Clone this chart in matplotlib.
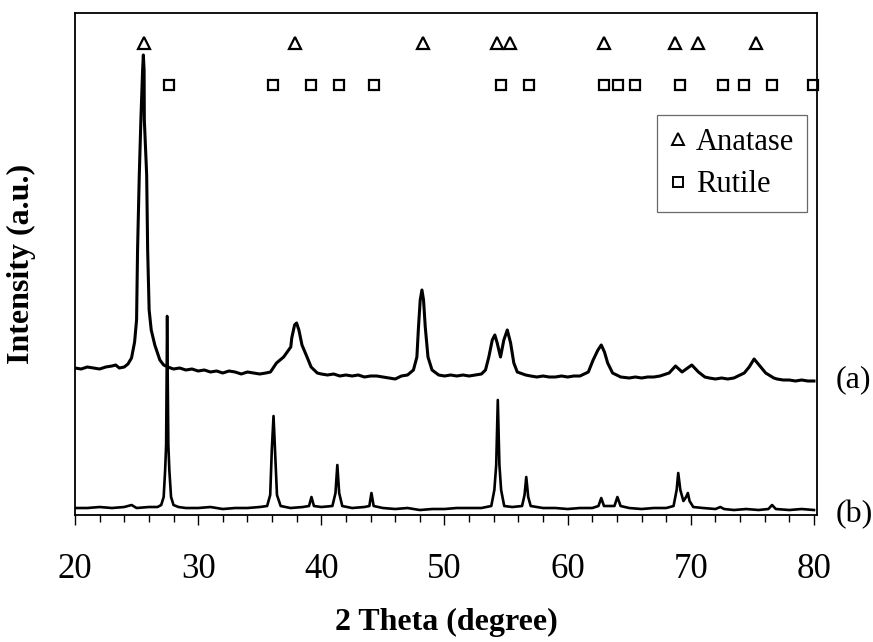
import numpy as np
import matplotlib
matplotlib.use("Agg")
import matplotlib.pyplot as plt
from matplotlib.lines import Line2D
from matplotlib.ticker import MultipleLocator

plt.rcParams["font.family"] = ["Liberation Serif", "DejaVu Serif"]

# pattern (a): anatase-rich sample (2theta, intensity a.u.)
a_theta = [20.0, 20.5, 21.0, 21.5, 22.0, 22.5, 23.0, 23.3, 23.6, 24.0, 24.3, 24.59,
           24.84, 25.0, 25.08, 25.22, 25.35, 25.49, 25.55, 25.61, 25.63, 25.82, 25.9,
           26.02, 26.19, 26.48, 26.89, 27.2, 27.54, 28.0, 28.5, 29.0, 29.5, 30.0, 30.5,
           31.0, 31.5, 32.0, 32.5, 33.0, 33.5, 34.0, 34.5, 35.0, 35.5, 35.87, 36.36,
           36.94, 37.52, 37.6, 37.83, 37.99, 38.18, 38.43, 38.84, 39.17, 39.67, 40.0,
           40.5, 41.0, 41.5, 42.0, 42.5, 43.0, 43.5, 44.0, 44.5, 45.0, 45.5, 46.0, 46.5,
           47.0, 47.48, 47.76, 47.89, 48.03, 48.17, 48.3, 48.44, 48.66, 48.99, 49.53,
           50.0, 50.5, 51.0, 51.5, 52.0, 52.5, 53.0, 53.33, 53.6, 53.88, 54.09, 54.28,
           54.55, 54.82, 55.1, 55.37, 55.63, 55.91, 56.59, 57.0, 57.5, 58.0, 58.5, 59.0,
           59.5, 60.0, 60.5, 61.0, 61.68, 62.07, 62.46, 62.73, 62.99, 63.25, 63.65,
           64.31, 65.0, 65.5, 66.0, 66.5, 67.0, 67.5, 68.24, 68.76, 69.29, 70.08, 70.62,
           71.14, 71.5, 72.0, 72.5, 73.0, 73.5, 74.34, 74.74, 75.14, 75.54, 76.08,
           76.74, 77.0, 77.5, 78.0, 78.5, 79.0, 79.5, 80.0]
a_int = [147, 146, 148, 147, 146, 148, 149, 150, 147, 148, 151, 157,
         173, 195, 265, 340, 395, 445, 460, 445, 395, 340, 265,
         205, 185, 170, 155, 150, 148, 146, 147, 145, 146, 144, 145,
         143, 144, 142, 144, 143, 141, 143, 142, 141, 142, 143, 152,
         158, 168, 177, 190, 192, 185, 170, 158, 148, 142, 141,
         140, 141, 139, 140, 139, 140, 138, 139, 139, 138, 137, 136, 139,
         140, 145, 158, 188, 215, 225, 215, 188, 158, 145, 140,
         139, 140, 139, 140, 139, 140, 141, 145, 158, 175, 180, 172,
         158, 175, 185, 172, 152, 143, 140, 139, 138, 139, 138, 138,
         139, 138, 139, 139, 143, 155, 165, 170, 163, 152, 142,
         138, 137, 138, 137, 138, 138, 139, 142, 149, 143, 150, 143,
         138, 137, 136, 137, 136, 137, 142, 148, 156, 150, 142,
         137, 136, 135, 135, 134, 135, 134, 134]

# pattern (b): rutile sample
b_theta = [20.0, 21.0, 22.0, 23.0, 24.0, 24.6, 25.0, 26.0, 26.7, 27.0, 27.2, 27.32,
           27.4, 27.48, 27.58, 27.66, 27.8, 28.0, 28.4, 29.0, 30.0, 31.0, 32.0, 33.0,
           34.0, 35.0, 35.6, 35.85, 35.98, 36.12, 36.24, 36.4, 36.7, 37.5, 38.5, 39.0,
           39.2, 39.4, 40.0, 40.9, 41.15, 41.3, 41.45, 41.7, 42.5, 43.5, 43.9, 44.07,
           44.25, 45.0, 46.0, 47.0, 48.0, 49.0, 50.0, 51.0, 52.0, 53.0, 53.8, 54.05,
           54.2, 54.33, 54.46, 54.6, 54.85, 55.5, 56.3, 56.5, 56.64, 56.8, 57.0, 58.0,
           59.0, 60.0, 61.0, 62.0, 62.5, 62.73, 62.95, 63.8, 64.04, 64.3, 65.0, 66.0,
           67.0, 68.0, 68.6, 68.85, 68.98, 69.15, 69.4, 69.62, 69.76, 69.9, 70.2, 71.0,
           72.0, 72.4, 72.7, 73.5, 74.5, 75.5, 76.3, 76.6, 76.9, 78.0, 79.0, 80.0]
b_int = [7, 7, 8, 7, 8, 10, 7, 8, 8, 10, 18, 45,
         70, 199, 70, 45, 18, 10, 8, 7, 7, 8, 6, 7,
         7, 8, 9, 20, 65, 99, 65, 20, 9, 7, 8, 9,
         18, 9, 8, 9, 22, 50, 22, 9, 7, 8, 9, 22,
         9, 7, 6, 7, 5, 6, 6, 7, 7, 7, 9, 25,
         50, 115, 50, 25, 9, 8, 9, 20, 38, 18, 9, 7,
         7, 6, 7, 7, 9, 17, 9, 9, 18, 9, 7, 6,
         7, 7, 9, 25, 42, 25, 14, 18, 22, 14, 8, 7,
         6, 8, 6, 5, 6, 5, 6, 10, 6, 5, 6, 5]

# reference line positions
anatase_pos = [25.6, 37.9, 48.25, 54.25, 55.35, 62.95, 68.7, 70.6, 75.3]
rutile_pos = [27.6, 36.1, 39.2, 41.45, 44.3, 54.6, 56.9, 62.95, 64.1, 65.5,
              69.1, 72.6, 74.3, 76.6, 79.95]
anatase_y = 472
rutile_y = 430

fig = plt.figure(figsize=(8.73, 6.42), dpi=100)
ax = fig.add_axes([0.0859, 0.1978, 0.85, 0.782])

ax.plot(a_theta, a_int, color="black", lw=2.2)
ax.plot(b_theta, b_int, color="black", lw=1.9)

ax.plot(anatase_pos, [anatase_y] * len(anatase_pos), ls="none", marker="^",
        ms=8.5, mfc="white", mec="black", mew=1.6, clip_on=False)
ax.plot(rutile_pos, [rutile_y] * len(rutile_pos), ls="none", marker="s",
        ms=7.5, mfc="white", mec="black", mew=1.6, clip_on=False)

ax.set_xlim(20, 80.25)
ax.set_ylim(0, 502)
ax.xaxis.set_major_locator(MultipleLocator(10))
ax.xaxis.set_minor_locator(MultipleLocator(2))
ax.tick_params(axis="x", which="major", direction="out", length=7, width=1,
               labelsize=25, pad=20)
ax.tick_params(axis="x", which="minor", direction="out", length=5, width=1)
ax.set_yticks([])
for s in ax.spines.values():
    s.set_linewidth(1.3)

ax.set_xlabel("2 Theta (degree)", fontsize=23, fontweight="bold", labelpad=16)
ax.set_ylabel("Intensity (a.u.)", fontsize=23, fontweight="bold", labelpad=28)

ax.text(1.025, 0.27, "(a)", transform=ax.transAxes, fontsize=23, va="center")
ax.text(1.025, 0.0, "(b)", transform=ax.transAxes, fontsize=23, va="center")

handles = [
    Line2D([], [], ls="none", marker="^", ms=8, mfc="white", mec="black", mew=1.4),
    Line2D([], [], ls="none", marker="s", ms=7, mfc="white", mec="black", mew=1.4),
]
leg = ax.legend(handles, ["Anatase", "Rutile"], loc="upper right",
                bbox_to_anchor=(0.9865, 0.797), borderaxespad=0, fontsize=22,
                frameon=True, fancybox=False, handlelength=0.5, handletextpad=0.35,
                borderpad=0.42, labelspacing=0.45)
leg.get_frame().set_edgecolor("#444444")
leg.get_frame().set_linewidth(0.9)

fig.savefig("out.png", dpi=100)
